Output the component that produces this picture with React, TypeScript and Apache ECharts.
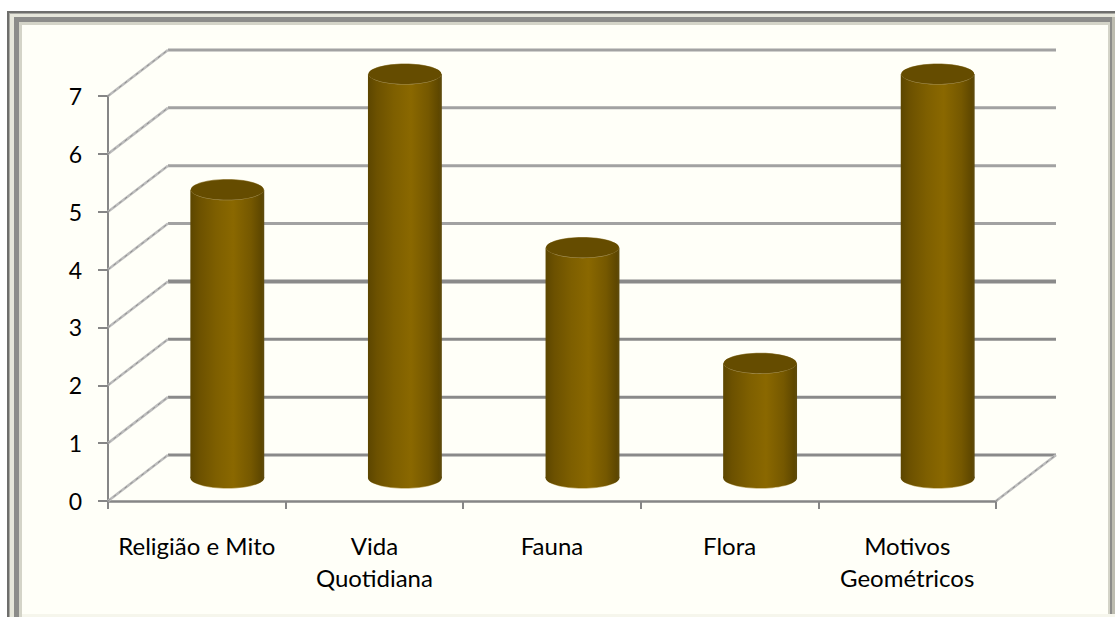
import React, { useEffect, useRef } from "react";
import * as echarts from "echarts";

// Number of motifs per iconographic theme
const categories = ["Religião e Mito", "Vida\nQuotidiana", "Fauna", "Flora", "Motivos\nGeométricos"];
const counts = [5, 7, 4, 2, 7];
const wallLevels = [0, 1, 2, 3, 4, 5, 6, 7];

const FONT = "Lato, Carlito, sans-serif";
const DEPTH_X = 60;
const DEPTH_Y = 46;

// Nested bands of the bevelled chart frame, outermost first: [x0, y0, x1, y1, fill]
const frameBands: [number, number, number, number, string][] = [
  [7, 11, 1115, 617, "#6e6e6c"],
  [9, 13, 1115, 617, "#a8a8a2"],
  [10, 14, 1115, 617, "#e6e6da"],
  [14, 17, 1112, 617, "#8c8c8a"],
  [19, 22, 1110, 617, "#d4d4c8"],
  [22, 25, 1108, 614, "#fffff8"],
  [1112, 17, 1115, 617, "#bdbcb0"],
  [22, 614, 1115, 617, "#f6f6ec"],
];

// Back wall gridline plus its slanted run along the side wall
function renderWall(params: any, api: any) {
  const level = api.value(1);
  const rect = params.coordSys;
  const [, y] = api.coord([0, level]);
  const x0 = rect.x;
  const x1 = rect.x + rect.width;
  const dark = level <= 3;
  const slant = (xa: number) => [
    {
      type: "line",
      shape: { x1: xa, y1: y, x2: xa + DEPTH_X, y2: y - DEPTH_Y },
      style: { stroke: "#bcbcbc", lineWidth: 2.6 },
    },
    {
      type: "line",
      shape: { x1: xa, y1: y, x2: xa + DEPTH_X, y2: y - DEPTH_Y },
      style: { stroke: "#8e8e8e", lineWidth: 1, lineDash: [3, 4] },
    },
  ];
  const children: any[] = [
    {
      type: "line",
      shape: { x1: x0 + DEPTH_X, y1: y - DEPTH_Y, x2: x1 + DEPTH_X, y2: y - DEPTH_Y },
      style: { stroke: dark ? "#8a8a8a" : "#a2a2a2", lineWidth: level === 3 ? 4 : 3 },
    },
    ...slant(x0),
  ];
  if (level === 0) children.push(...slant(x1));
  return { type: "group", children };
}

// Shaded cylinder standing halfway along the depth of the floor
function renderCylinder(_params: any, api: any) {
  const [cx0, yTop] = api.coord([api.value(0), api.value(1)]);
  const [, yBase] = api.coord([api.value(0), 0]);
  const band = api.size([1, 0])[0];
  const rx = band * 0.208;
  const ry = 10;
  const cx = cx0 + DEPTH_X / 2 + 0.5;
  const top = yTop - DEPTH_Y / 2 + 1;
  const base = yBase - DEPTH_Y / 2;
  const side = new echarts.graphic.LinearGradient(0, 0, 1, 0, [
    { offset: 0, color: "#5c4600" },
    { offset: 0.12, color: "#6c5100" },
    { offset: 0.35, color: "#7e5f00" },
    { offset: 0.58, color: "#8a6800" },
    { offset: 0.82, color: "#755800" },
    { offset: 0.96, color: "#5e4700" },
    { offset: 1, color: "#5e4c10" },
  ]);
  return {
    type: "group",
    children: [
      { type: "ellipse", shape: { cx, cy: base + 0.8, rx: rx - 1, ry }, style: { fill: "#c9b77f" } },
      { type: "ellipse", shape: { cx, cy: base, rx, ry }, style: { fill: side } },
      { type: "rect", shape: { x: cx - rx, y: top, width: rx * 2, height: base - top }, style: { fill: side } },
      { type: "ellipse", shape: { cx, cy: top, rx: rx - 0.5, ry: ry + 0.6 }, style: { fill: "#a8955c" } },
      { type: "ellipse", shape: { cx, cy: top, rx: rx - 0.5, ry }, style: { fill: "#654c00" } },
    ],
  };
}

export default function App() {
  const ref = useRef<HTMLDivElement>(null);

  useEffect(() => {
    const chart = echarts.init(ref.current!, null, { renderer: "svg" });
    const axisColor = "#868686";
    chart.setOption({
      animation: false,
      backgroundColor: "#ffffff",
      graphic: frameBands.map(([x0, y0, x1, y1, fill]) => ({
        type: "rect",
        z: -10,
        silent: true,
        shape: { x: x0, y: y0, width: x1 - x0, height: y1 - y0 },
        style: { fill },
      })),
      grid: { left: 108, top: 96, width: 888, height: 405 },
      xAxis: {
        type: "category",
        data: categories,
        axisLine: { lineStyle: { color: axisColor, width: 2.5 } },
        axisTick: { show: true, alignWithLabel: false, length: 8, lineStyle: { color: axisColor, width: 2 } },
        axisLabel: {
          color: "#000000",
          fontFamily: FONT,
          fontSize: 24,
          margin: 28,
          lineHeight: 32,
          interval: 0,
        },
      },
      yAxis: {
        type: "value",
        min: 0,
        max: 7,
        interval: 1,
        splitLine: { show: false },
        axisLine: { show: true, lineStyle: { color: axisColor, width: 2 } },
        axisTick: { show: true, length: 10, lineStyle: { color: axisColor, width: 2 } },
        axisLabel: { color: "#000000", fontFamily: FONT, fontSize: 23, margin: 26 },
      },
      series: [
        {
          type: "custom",
          z: 1,
          silent: true,
          clip: false,
          renderItem: renderWall,
          data: wallLevels.map((level) => [0, level]),
        },
        {
          type: "custom",
          z: 2,
          clip: false,
          renderItem: renderCylinder,
          data: counts.map((count, i) => [i, count]),
        },
      ],
    });
    return () => chart.dispose();
  }, []);

  return <div ref={ref} style={{ position: "fixed", left: 0, top: 0, width: 1115, height: 617 }} />;
}
